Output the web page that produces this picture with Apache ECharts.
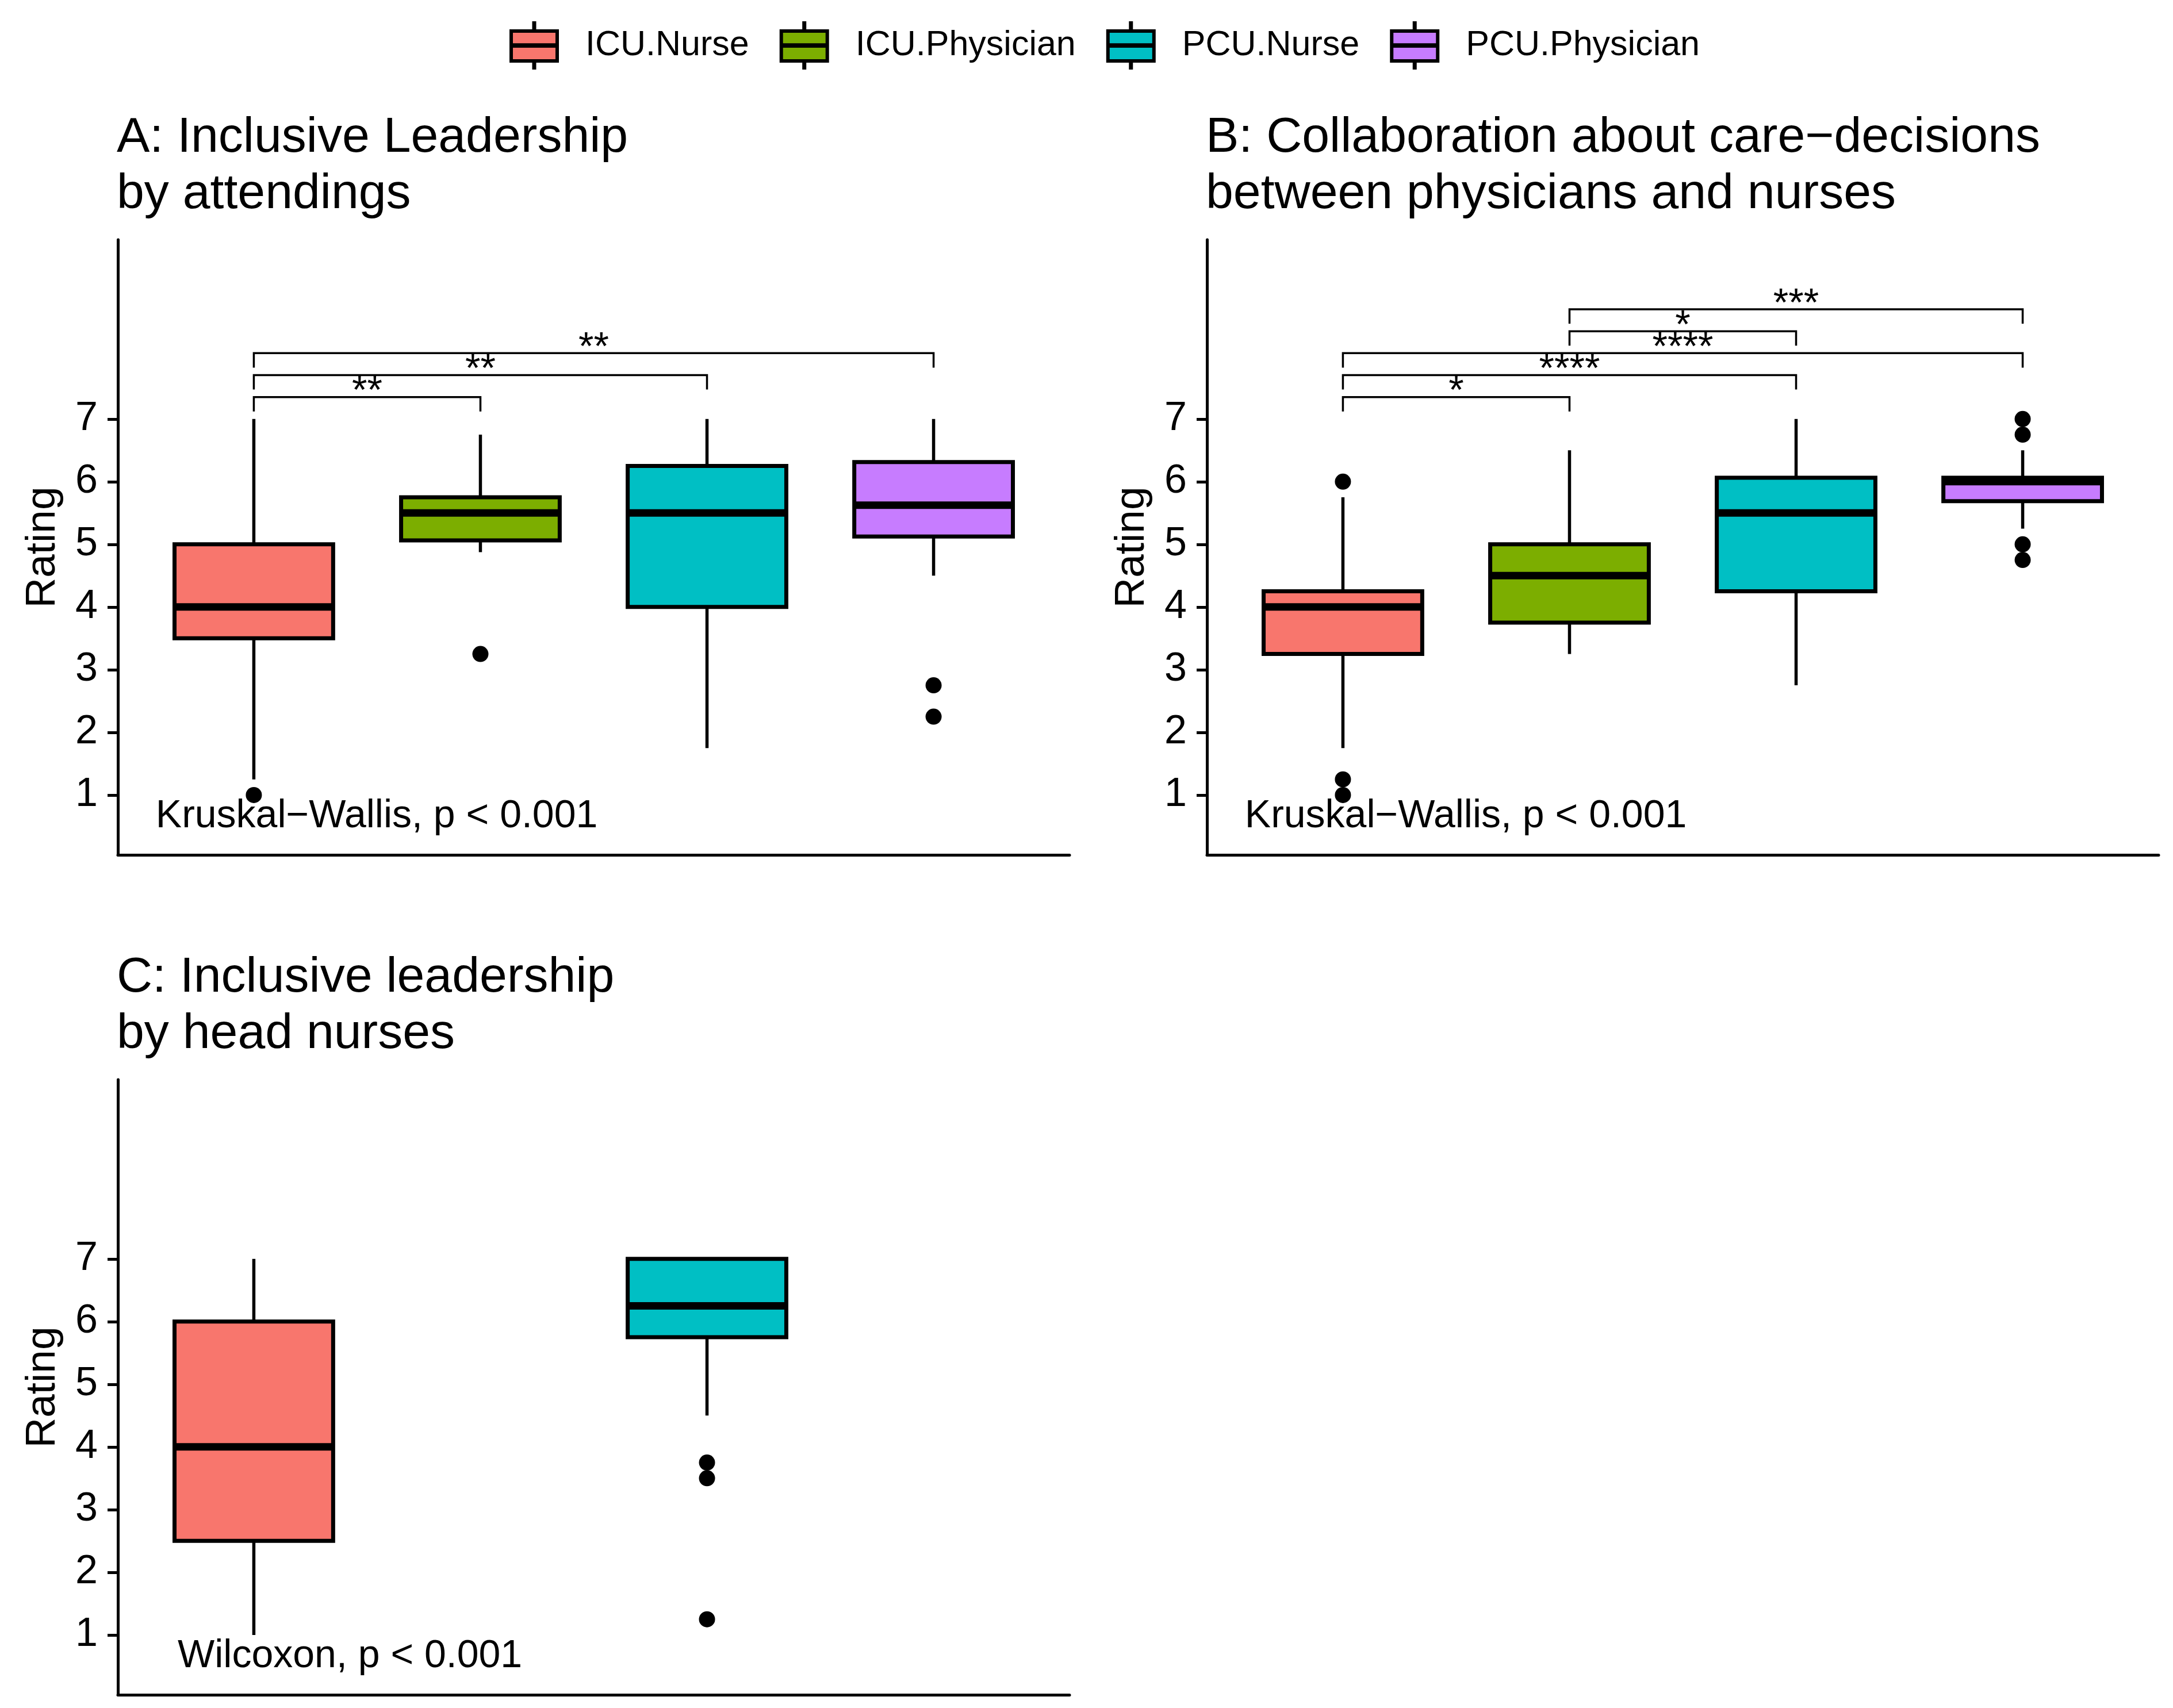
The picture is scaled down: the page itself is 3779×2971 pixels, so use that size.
<!DOCTYPE html>
<html>
<head>
<meta charset="utf-8">
<script src="https://cdn.jsdelivr.net/npm/echarts@6/dist/echarts.min.js"></script>
<style>
html,body{margin:0;padding:0;background:#fff;}
#chart{width:3779px;height:2971px;}
</style>
</head>
<body>
<div id="chart"></div>
<script>
// ---------- data ----------
const groups = ['ICU.Nurse', 'ICU.Physician', 'PCU.Nurse', 'PCU.Physician'];
const groupPos = [1, 2, 3, 4];
const groupColors = ['#F8766D', '#7CAE00', '#00BFC4', '#C77CFF'];
const yTicks = [1, 2, 3, 4, 5, 6, 7];

const panelTitles = [
  'A: Inclusive Leadership\nby attendings',
  'B: Collaboration about care\u2212decisions\nbetween physicians and nurses',
  'C: Inclusive leadership\nby head nurses'
];

// [lower whisker, Q1, median, Q3, upper whisker] per group (null = group absent)
const statsA = [[1.25, 3.5, 4, 5, 7], [4.875, 5.0625, 5.5, 5.75, 6.75], [1.75, 4, 5.5, 6.25, 7], [4.5, 5.125, 5.625, 6.3125, 7]];
const statsB = [[1.75, 3.25, 4, 4.25, 5.75], [3.25, 3.75, 4.5, 5, 6.5], [2.75, 4.25, 5.5, 6.0625, 7], [5.25, 5.6875, 6, 6.0625, 6.5]];
const statsC = [[1, 2.5, 4, 6, 7], null, [4.5, 5.75, 6.25, 7, 7], null];

const outliersA = [[1], [3.25], [], [2.75, 2.25]];
const outliersB = [[6, 1.25, 1], [], [], [7, 6.75, 5, 4.75]];
const outliersC = [[], [], [3.75, 3.5, 1.25], []];

// [group position 1, group position 2, bracket level, label]
const bracketsA = [[1, 2, 7.35, '**'], [1, 3, 7.7, '**'], [1, 4, 8.05, '**']];
const bracketsB = [[1, 2, 7.35, '*'], [1, 3, 7.7, '****'], [1, 4, 8.05, '****'], [2, 3, 8.4, '*'], [2, 4, 8.75, '***']];
const bracketsC = [];

// test annotation: [x, y, text]
const testA = [[0.567, 0.66, 'Kruskal\u2212Wallis, p < 0.001']];
const testB = [[0.567, 0.66, 'Kruskal\u2212Wallis, p < 0.001']];
const testC = [[0.664, 0.66, 'Wilcoxon, p < 0.001']];

// ---------- layout / style ----------
const FONT = '"Liberation Sans", Arial, Helvetica, sans-serif';
const Y_MIN = 0.045, Y_MAX = 9.86;
const X_MIN = 0.4, X_MAX = 4.6;
const BOX_W = 0.7;
const TIP = 0.23;
const grids = [
  {left: 205, top: 417, width: 1655, height: 1070},
  {left: 2099, top: 417, width: 1655, height: 1070},
  {left: 205, top: 1878, width: 1655, height: 1070}
];
const titleTops = [191, 191, 1652];

const panels = [
  {stats: statsA, out: outliersA, br: bracketsA, test: testA},
  {stats: statsB, out: outliersB, br: bracketsB, test: testB},
  {stats: statsC, out: outliersC, br: bracketsC, test: testC}
];

function renderBox(params, api) {
  const x = api.value(0);
  const c = v => api.coord([x, v]);
  const pLo = c(api.value(1)), pQ1 = c(api.value(2)), pMd = c(api.value(3)),
        pQ3 = c(api.value(4)), pHi = c(api.value(5));
  const hw = api.size([BOX_W, 0])[0] / 2;
  const col = api.visual('color');
  const children = [];
  if (pHi[1] < pQ3[1] - 0.5) children.push({type: 'line', shape: {x1: pHi[0], y1: pHi[1], x2: pQ3[0], y2: pQ3[1]}, style: {stroke: '#000', lineWidth: 5.5}});
  if (pLo[1] > pQ1[1] + 0.5) children.push({type: 'line', shape: {x1: pQ1[0], y1: pQ1[1], x2: pLo[0], y2: pLo[1]}, style: {stroke: '#000', lineWidth: 5.5}});
  children.push({type: 'rect', shape: {x: pQ3[0] - hw, y: pQ3[1], width: 2 * hw, height: pQ1[1] - pQ3[1]}, style: {fill: col, stroke: '#000', lineWidth: 7}});
  children.push({type: 'line', shape: {x1: pMd[0] - hw + 3, y1: pMd[1], x2: pMd[0] + hw - 3, y2: pMd[1]}, style: {stroke: '#000', lineWidth: 13}});
  return {type: 'group', children};
}

function makeBracketRenderer(list) {
  return function (params, api) {
    const b = list[params.dataIndex];
    const p1 = api.coord([api.value(0), api.value(2)]);
    const p2 = api.coord([api.value(1), api.value(2)]);
    const tip = api.size([0, TIP])[1];
    return {type: 'group', children: [
      {type: 'polyline', shape: {points: [[p1[0], p1[1] + tip], [p1[0], p1[1]], [p2[0], p2[1]], [p2[0], p2[1] + tip]]},
       style: {stroke: '#000', lineWidth: 3.5, fill: null}},
      {type: 'text', x: (p1[0] + p2[0]) / 2, y: p1[1] - 8,
       style: {text: b[3], fill: '#000', font: '68px ' + FONT, textAlign: 'center', textVerticalAlign: 'middle'}}
    ]};
  };
}

function makeTestRenderer(list) {
  return function (params, api) {
    const t = list[params.dataIndex];
    const p = api.coord([api.value(0), api.value(1)]);
    return {type: 'text', x: p[0], y: p[1],
      style: {text: t[2], fill: '#000', font: '68px ' + FONT, textAlign: 'left', textVerticalAlign: 'middle'}};
  };
}

const xAxes = [], yAxes = [], series = [], titles = [];
grids.forEach((g, i) => {
  xAxes.push({
    gridIndex: i, type: 'value', min: X_MIN, max: X_MAX,
    axisLine: {show: true, onZero: false, lineStyle: {color: '#000', width: 5}},
    axisTick: {show: false}, axisLabel: {show: false}, splitLine: {show: false}
  });
  yAxes.push({
    gridIndex: i, type: 'value', min: Y_MIN, max: Y_MAX,
    name: 'Rating', nameLocation: 'middle', nameGap: 94,
    nameTextStyle: {fontSize: 73, color: '#000', fontFamily: FONT},
    axisLine: {show: true, onZero: false, lineStyle: {color: '#000', width: 5}},
    axisTick: {show: true, length: 18, customValues: yTicks, lineStyle: {color: '#000', width: 5}},
    axisLabel: {show: true, customValues: yTicks, fontSize: 70, color: '#000', fontFamily: FONT, margin: 35},
    splitLine: {show: false}
  });
  titles.push({
    text: panelTitles[i], left: g.left - 2, top: titleTops[i], padding: 0,
    textStyle: {fontSize: 86, lineHeight: 98, fontWeight: 'normal', color: '#000', fontFamily: FONT}
  });
  const P = panels[i];
  P.stats.forEach((s, k) => {
    if (!s) return;
    series.push({
      type: 'custom', name: groups[k], xAxisIndex: i, yAxisIndex: i,
      itemStyle: {color: groupColors[k]},
      renderItem: renderBox,
      encode: {x: 0, y: [1, 2, 3, 4, 5]},
      data: [[groupPos[k]].concat(s)],
      animation: false, silent: true
    });
  });
  const outPts = [];
  P.out.forEach((arr, k) => arr.forEach(v => outPts.push([groupPos[k], v])));
  series.push({
    type: 'scatter', name: 'outliers' + i, xAxisIndex: i, yAxisIndex: i,
    symbol: 'circle', symbolSize: 28, itemStyle: {color: '#000', opacity: 1},
    data: outPts, animation: false, silent: true, z: 5
  });
  if (P.br.length) {
    series.push({
      type: 'custom', name: 'brackets' + i, xAxisIndex: i, yAxisIndex: i,
      renderItem: makeBracketRenderer(P.br),
      encode: {x: [0, 1], y: 2},
      data: P.br.map(b => [b[0], b[1], b[2]]),
      animation: false, silent: true
    });
  }
  series.push({
    type: 'custom', name: 'test' + i, xAxisIndex: i, yAxisIndex: i,
    renderItem: makeTestRenderer(P.test),
    encode: {x: 0, y: 1},
    data: P.test.map(t => [t[0], t[1]]),
    animation: false, silent: true, z: 6
  });
});

const ICON = 'path://M0,14 L80,14 L80,66 L0,66 Z M39.5,0 L40.5,0 L40.5,14 L39.5,14 Z M39.5,66 L40.5,66 L40.5,78 L39.5,78 Z M0,38.3 L80,38.3 L80,40 L0,40 Z';

const option = {
  backgroundColor: '#fff',
  animation: false,
  title: titles,
  legend: {
    data: groups.map(n => ({name: n, icon: ICON})),
    left: 886, top: 37, padding: 0,
    itemWidth: 80, itemHeight: 78, itemGap: 53,
    itemStyle: {borderColor: '#000', borderWidth: 6},
    textStyle: {fontSize: 61, color: '#000', fontFamily: FONT, padding: [0, 0, 0, 44]},
    selectedMode: false
  },
  grid: grids.map(g => Object.assign({containLabel: false}, g)),
  xAxis: xAxes,
  yAxis: yAxes,
  series: series
};

const chart = echarts.init(document.getElementById('chart'), null, {renderer: 'canvas'});
chart.setOption(option);
</script>
</body>
</html>
